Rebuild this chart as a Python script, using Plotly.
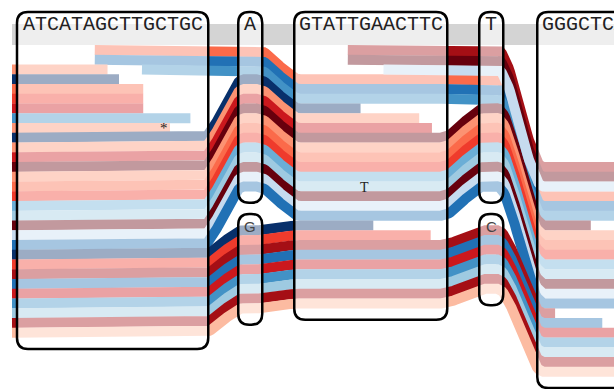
import numpy as np
import plotly.graph_objects as go

# ---------------- data ----------------
node_ids = ["n1", "A", "G", "n4", "T", "C", "n7"]
node_seqs = ["ATCATAGCTTGCTGC", "A", "G", "GTATTGAACTTC", "T", "C", "GGGCTCAGGTCA"]
node_col = [0, 1, 1, 2, 3, 3, 4]
node_row_offset = [0, 0, 18.5, 0, 0, 18.5, 12]
ref_path = ["n1", "A", "n4", "T", "n7"]

palette = {
    "tomato": "#fb6a4a", "blue": "#2171b5", "steel": "#4292c6", "navy": "#08306b",
    "salmon": "#fc9272", "red": "#cb181d", "redorange": "#ef3b2c", "maroon": "#67000d",
    "crimson": "#a50f15", "lightblue": "#6baed6", "lightblue2": "#9ecae1",
    "paleblue": "#c6dbef", "palesalmon": "#fcbba1",
}

trk_color = [
    "tomato", "blue", "salmon", "steel", "navy", "tomato", "redorange", "red", "steel", "salmon",
    "navy", "salmon", "red", "maroon", "salmon", "tomato", "redorange", "lightblue", "lightblue2",
    "maroon", "paleblue", "blue",
    "navy", "redorange", "crimson", "blue", "red", "steel", "lightblue2", "crimson", "palesalmon",
    "crimson", "maroon", "paleblue",
]
trk_path = [
    [("n1", 0), ("A", 0), ("n4", 3), ("T", 3), ("n7", 3)],
    [("n1", 1), ("A", 1), ("n4", 4), ("T", 4), ("n7", 4)],
    [("n1", 2)],
    [("n1", 2), ("A", 2), ("n4", 5), ("T", 5), ("n7", 5)],
    [("n1", 3)],
    [("n1", 4)],
    [("n1", 5)],
    [("n1", 6)],
    [("n1", 7)],
    [("n1", 8)],
    [("n1", 9), ("A", 3), ("n4", 6)],
    [("n1", 10), ("A", 4), ("n4", 7)],
    [("n1", 11), ("A", 5), ("n4", 8)],
    [("n1", 12), ("A", 6), ("n4", 9), ("T", 6), ("n7", 6)],
    [("n1", 13), ("A", 7), ("n4", 10), ("T", 7), ("n7", 7)],
    [("n1", 14), ("A", 8), ("n4", 11), ("T", 8), ("n7", 8)],
    [("n1", 15), ("A", 9), ("n4", 12), ("T", 9), ("n7", 9)],
    [("n1", 16), ("A", 10), ("n4", 13), ("T", 10), ("n7", 10)],
    [("n1", 17), ("A", 11), ("n4", 14), ("T", 11), ("n7", 11)],
    [("n1", 18), ("A", 12), ("n4", 15), ("T", 12), ("n7", 12)],
    [("n1", 19), ("A", 13), ("n4", 16), ("T", 13), ("n7", 13)],
    [("n1", 20), ("A", 14), ("n4", 17), ("T", 14), ("n7", 14)],
    [("n1", 21), ("G", 0), ("n4", 18)],
    [("n1", 22), ("G", 1), ("n4", 19)],
    [("n1", 23), ("G", 2), ("n4", 20), ("C", 0), ("n7", 15)],
    [("n1", 24), ("G", 3), ("n4", 21), ("C", 1), ("n7", 16)],
    [("n1", 25), ("G", 4), ("n4", 22), ("C", 2), ("n7", 17)],
    [("n1", 26), ("G", 5), ("n4", 23), ("C", 3), ("n7", 18)],
    [("n1", 27), ("G", 6), ("n4", 24), ("C", 4), ("n7", 19)],
    [("n1", 28), ("G", 7), ("n4", 25), ("C", 5), ("n7", 20)],
    [("n1", 29), ("G", 8), ("n4", 26), ("C", 6), ("n7", 21)],
    [("n4", 0), ("T", 0), ("n7", 0)],
    [("n4", 1), ("T", 1), ("n7", 1)],
    [("n4", 2), ("T", 2), ("n7", 2)],
]
# start / end offsets (in bases) inside the first / last node; None = runs off view
trk_start = [6.1, 6.1, None, 9.8, None, None, None, None, None, None,
             None, None, None, None, None, None, None, None, None, None, None, None,
             None, None, None, None, None, None, None, None, None,
             4.2, 4.2, 7.0]
trk_end = [None, None, 7.1, None, 8.0, 9.9, 9.9, 9.9, 13.6, 12.0,
           5.2, 9.8, 10.8, 4.2, None, None, None, None, None, None, None, None,
           6.2, 10.7, 1.4, 5.1, None, None, None, None, None,
           None, None, None]

mark_text = ["*", "T"]
mark_track = [9, 18]
mark_node = ["n1", "n4"]
mark_base = [11.5, 5.5]

# ---------------- layout constants ----------------
CW = 12.75
MIN_W = 24
GAPS = [30, 32, 32, 34]
X_START = 17
ROW_H = 9.75
ROW0_Y = 45
PAD = 11.5
TOP_Y = 12
VIEW_X0, VIEW_X1 = 12, 614
TRACK_W = 10
REF_W = 21
ENTER, EXIT = 6, 6
W, H = 614, 389

node_w = {n: max(MIN_W, len(s) * CW) for n, s in zip(node_ids, node_seqs)}
ncols = max(node_col) + 1
col_w = [max(node_w[n] for n, c in zip(node_ids, node_col) if c == k) for k in range(ncols)]
col_x = [X_START]
for k in range(1, ncols):
    col_x.append(col_x[-1] + col_w[k - 1] + GAPS[k - 1])
node_x = {n: (col_x[c], col_x[c] + node_w[n]) for n, c in zip(node_ids, node_col)}
node_off = dict(zip(node_ids, node_row_offset))


def row_top(n, r):
    return ROW0_Y + ROW_H * (node_off[n] + r)


def row_y(n, r):
    return row_top(n, r) + ROW_H / 2


fig = go.Figure()

# reference (gray) path
ref_y = ROW0_Y - REF_W / 2
fig.add_trace(go.Scatter(x=[VIEW_X0, VIEW_X1], y=[ref_y, ref_y], mode="lines",
                         line=dict(color="#d4d4d4", width=REF_W), hoverinfo="skip", showlegend=False))


def track_xy(visits, start, end):
    xs, ys = [], []
    for i, (nd, r) in enumerate(visits):
        x0, x1 = node_x[nd]
        y = row_y(nd, r)
        if i == 0:
            a = VIEW_X0 if start is None else x0 + start * CW
        else:
            a = x0 + ENTER
        if i == len(visits) - 1:
            b = VIEW_X1 if end is None else x0 + end * CW
        else:
            b = x1 - EXIT
        xs += [a, b]
        ys += [y, y]
        if i < len(visits) - 1:
            nd2, r2 = visits[i + 1]
            y2 = row_y(nd2, r2)
            xn = node_x[nd2][0] + ENTER
            for t in np.linspace(0, 1, 30)[1:-1]:
                s = t * t * (3 - 2 * t)
                xs.append(b + (xn - b) * t)
                ys.append(y + (y2 - y) * s)
    return xs, ys


for col, path, st, en in zip(trk_color, trk_path, trk_start, trk_end):
    xs, ys = track_xy(path, st, en)
    fig.add_trace(go.Scatter(x=xs, y=ys, mode="lines", line=dict(color=palette[col], width=TRACK_W),
                             hoverinfo="skip", showlegend=False))

# node boxes
node_rows = {n: 0 for n in node_ids}
for path in trk_path:
    for nd, r in path:
        node_rows[nd] = max(node_rows[nd], r + 1)

shapes = []
annotations = []
for n, s in zip(node_ids, node_seqs):
    x0, x1 = node_x[n]
    if n in ref_path:
        y0 = TOP_Y
        ly = 24.5
        font = dict(family="Liberation Mono, Courier New, monospace", size=20, color="#222")
    else:
        y0 = row_top(n, 0) - PAD
        ly = row_top(n, 0) + 1.5
        font = dict(family="Liberation Sans, Arial, sans-serif", size=15, color="#444")
    y1 = row_top(n, node_rows[n]) + PAD
    rr = min(11, (x1 - x0) / 2)
    p = (f"M {x0+rr},{y0} L {x1-rr},{y0} Q {x1},{y0} {x1},{y0+rr} L {x1},{y1-rr} "
         f"Q {x1},{y1} {x1-rr},{y1} L {x0+rr},{y1} Q {x0},{y1} {x0},{y1-rr} "
         f"L {x0},{y0+rr} Q {x0},{y0} {x0+rr},{y0} Z")
    shapes.append(dict(type="path", path=p, xref="x", yref="y", layer="above",
                       fillcolor="rgba(255,255,255,0.6)", line=dict(color="black", width=2.5)))
    annotations.append(dict(x=(x0 + x1) / 2, y=ly, text=s, showarrow=False, xref="x", yref="y",
                            xanchor="center", yanchor="middle", font=font))

for txt, ti, nd, base in zip(mark_text, mark_track, mark_node, mark_base):
    r = [rr_ for n_, rr_ in trk_path[ti] if n_ == nd][0]
    annotations.append(dict(x=node_x[nd][0] + base * CW, y=row_y(nd, r) + (1 if txt == "T" else 0),
                            text=txt, showarrow=False, xref="x", yref="y",
                            font=dict(family="Liberation Serif, Times New Roman, serif",
                                      size=14 if txt == "T" else 15, color="#222")))

fig.update_layout(
    width=W, height=H, margin=dict(l=0, r=0, t=0, b=0),
    paper_bgcolor="white", plot_bgcolor="white",
    xaxis=dict(range=[0, W], visible=False, fixedrange=True),
    yaxis=dict(range=[H, 0], visible=False, fixedrange=True),
    shapes=shapes, annotations=annotations,
)

fig.write_html("out.html", config={"displayModeBar": False},
               post_script="document.body.style.margin='0';document.body.style.overflow='hidden';")
